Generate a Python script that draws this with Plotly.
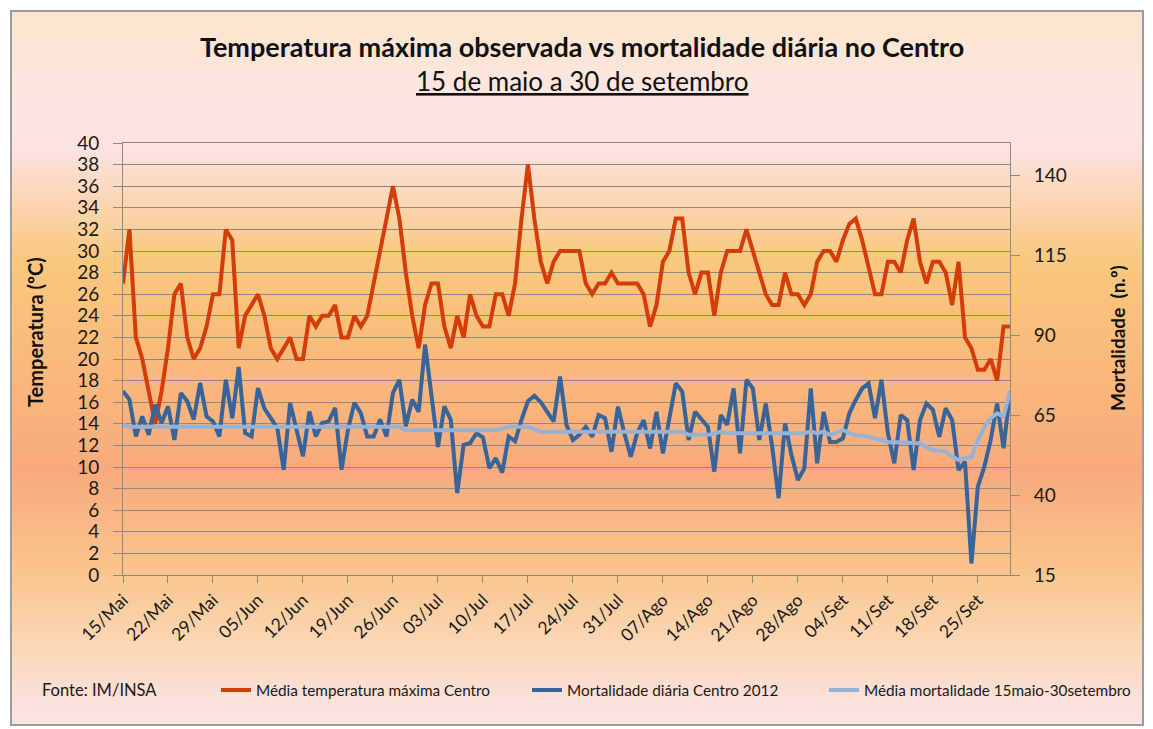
import plotly.graph_objects as go
import pandas as pd

# ---------------- data ----------------
month_pt = {5: "Mai", 6: "Jun", 7: "Jul", 8: "Ago", 9: "Set"}
dates = pd.date_range("2012-05-15", "2012-09-30", freq="D")
categories = [f"{d.day:02d}/{month_pt[d.month]}" for d in dates]
tick_labels = categories[::7]

temp_max = [27, 32, 22, 20, 17, 14, 17, 21, 26, 27,
            22, 20, 21, 23, 26, 26, 32, 31, 21, 24,
            25, 26, 24, 21, 20, 21, 22, 20, 20, 24,
            23, 24, 24, 25, 22, 22, 24, 23, 24, 27,
            30, 33, 36, 33, 28, 24, 21, 25, 27, 27,
            23, 21, 24, 22, 26, 24, 23, 23, 26, 26,
            24, 27, 33, 38, 33, 29, 27, 29, 30, 30,
            30, 30, 27, 26, 27, 27, 28, 27, 27, 27,
            27, 26, 23, 25, 29, 30, 33, 33, 28, 26,
            28, 28, 24, 28, 30, 30, 30, 32, 30, 28,
            26, 25, 25, 28, 26, 26, 25, 26, 29, 30,
            30, 29, 31, 32.5, 33, 31, 28.5, 26, 26, 29,
            29, 28, 31, 33, 29, 27, 29, 29, 28, 25,
            29, 22, 21, 19, 19, 20, 18, 23, 23]

mortalidade = [72.4, 69.8, 58.3, 64.6, 58.8, 68.2, 62.5, 67.7, 57.2, 71.9,
               69.3, 63.6, 75.0, 64.6, 63.0, 58.3, 76.0, 64.0, 80.0, 59.4,
               58.3, 73.4, 67.0, 64.0, 61.0, 47.9, 68.8, 60.4, 52.1, 66.1,
               58.3, 62.5, 63.0, 67.2, 47.9, 60.4, 68.8, 65.6, 58.3, 58.3,
               63.6, 58.3, 71.9, 76.0, 61.5, 69.8, 66.0, 87.0, 70.0, 55.0,
               67.7, 63.5, 40.6, 55.7, 56.2, 59.3, 58.0, 48.4, 51.5, 47.0,
               58.3, 56.8, 63.5, 69.3, 71.0, 69.0, 66.0, 63.0, 77.0, 61.9,
               57.2, 58.8, 61.3, 58.2, 65.0, 64.0, 53.5, 67.6, 59.3, 52.0,
               59.3, 63.4, 54.6, 66.0, 53.0, 64.5, 74.9, 72.3, 57.2, 66.0,
               63.4, 61.3, 47.3, 65.0, 61.9, 73.3, 53.0, 76.0, 73.3, 57.2,
               68.6, 55.1, 39.0, 62.4, 52.5, 44.7, 48.3, 73.3, 49.9, 66.0,
               56.6, 56.6, 57.7, 65.5, 69.7, 73.3, 74.9, 64.0, 76.0, 59.3,
               49.9, 65.0, 63.4, 47.8, 63.4, 68.6, 66.6, 58.2, 67.1, 63.4,
               47.8, 50.4, 18.6, 42.6, 48.8, 57.2, 68.6, 54.6, 72.3]

media_mortalidade = [62.0, 61.3, 61.3, 61.3, 61.3, 61.3, 61.3, 61.3, 61.3, 61.3,
                     61.3, 61.3, 61.3, 61.3, 61.3, 61.3, 61.3, 61.3, 61.3, 61.3,
                     61.3, 61.3, 61.3, 61.3, 61.3, 61.3, 61.3, 61.3, 61.3, 61.3,
                     61.3, 61.3, 61.3, 61.3, 61.3, 61.3, 61.3, 61.3, 61.3, 61.3,
                     61.3, 61.3, 61.3, 61.3, 60.2, 60.2, 60.2, 60.2, 60.2, 60.2,
                     60.2, 60.2, 60.2, 60.2, 60.2, 60.2, 60.2, 60.2, 60.2, 60.8,
                     61.3, 61.3, 61.3, 61.3, 60.5, 59.8, 59.8, 59.8, 59.8, 59.8,
                     59.8, 59.8, 59.8, 59.8, 59.8, 59.8, 59.8, 59.8, 59.8, 59.8,
                     59.8, 59.8, 59.8, 59.8, 59.8, 59.8, 59.8, 59.8, 58.8, 58.8,
                     58.8, 58.8, 59.2, 59.8, 59.3, 59.3, 59.3, 59.3, 59.3, 59.3,
                     59.3, 59.3, 59.3, 59.3, 59.3, 59.3, 59.3, 59.8, 59.3, 59.8,
                     58.8, 59.5, 60.3, 59.3, 58.7, 58.5, 58.2, 57.7, 57.2, 56.5,
                     56.5, 56.6, 56.4, 56.2, 56.2, 55.0, 54.0, 53.8, 53.6, 52.0,
                     50.9, 51.5, 51.8, 57.0, 61.3, 64.0, 65.5, 64.5, 72.3]

left_ticks = list(range(0, 41, 2))
right_ticks = [15, 40, 65, 90, 115, 140]

# ---------------- layout helpers ----------------
# the page adds an 8 px body margin, so the figure is 8 px smaller and all
# positions below are given in page pixels
OFF = 8
W, H = 1153 - OFF, 729 - OFF
PL, PR, PT, PB = 123, 1010, 143, 575   # plot area in page pixels


def px_x(x):
    return (x - PL) / (PR - PL)


def px_y(y):
    return (PB - y) / (PB - PT)


FONT = "Lato, 'Open Sans', sans-serif"
GRID = "#8a8a8a"
TXT = "#1a1a1a"
LEG_Y = 690

fig = go.Figure()

fig.add_trace(go.Scatter(x=categories, y=temp_max, mode="lines",
                         name="Média temperatura máxima Centro",
                         line=dict(color="#d43c08", width=4), legend="legend"))
fig.add_trace(go.Scatter(x=categories, y=mortalidade, mode="lines",
                         name="Mortalidade diária Centro 2012", yaxis="y2",
                         line=dict(color="#37649a", width=4), legend="legend"))
fig.add_trace(go.Scatter(x=categories, y=media_mortalidade, mode="lines",
                         name="Média mortalidade 15maio-30setembro", yaxis="y2",
                         line=dict(color="#95b3d7", width=4), legend="legend2"))

# background gradient bands (whole chart frame)
stops = [(11, (251, 230, 204)), (125, (252, 228, 230)), (150, (252, 226, 224)),
         (260, (249, 200, 126)), (360, (249, 186, 124)), (470, (248, 170, 124)),
         (575, (249, 198, 142)), (650, (250, 216, 184)), (725, (252, 228, 232))]
shapes = []
y0 = 11
step = 6
while y0 < 725:
    y1 = min(y0 + step, 725)
    ym = (y0 + y1) / 2
    for (a, ca), (b, cb) in zip(stops[:-1], stops[1:]):
        if a <= ym <= b:
            t = (ym - a) / (b - a)
            c = tuple(round(ca[i] + (cb[i] - ca[i]) * t) for i in range(3))
            break
    shapes.append(dict(type="rect", xref="paper", yref="paper", layer="below",
                       x0=px_x(11), x1=px_x(1143), y0=px_y(y1 + 0.5), y1=px_y(y0),
                       line=dict(width=0), fillcolor=f"rgb{c}"))
    y0 = y1
shapes.append(dict(type="rect", xref="paper", yref="paper", layer="above",
                   x0=px_x(11), x1=px_x(1143), y0=px_y(725), y1=px_y(11),
                   line=dict(color="#9c9c9c", width=2), fillcolor="rgba(0,0,0,0)"))

leg_common = dict(orientation="h", y=px_y(LEG_Y), yanchor="middle", xanchor="left",
                  font=dict(size=15.3, family=FONT, color=TXT),
                  bgcolor="rgba(0,0,0,0)", traceorder="normal")

fig.update_layout(
    width=W, height=H,
    margin=dict(l=PL - OFF, r=W - (PR - OFF), t=PT - OFF, b=H - (PB - OFF)),
    paper_bgcolor="white",
    plot_bgcolor="rgba(0,0,0,0)",
    font=dict(family=FONT, color=TXT),
    shapes=shapes,
    showlegend=True,
    legend=dict(x=px_x(216), entrywidth=266, entrywidthmode="pixels", **leg_common),
    legend2=dict(x=px_x(824), **leg_common),
    xaxis=dict(type="category", range=[0, len(categories) - 1],
               tickmode="array", tickvals=tick_labels, ticktext=tick_labels,
               tickangle=-45, ticks="outside", ticklen=7, tickcolor=GRID,
               showgrid=False, showline=True, linecolor=GRID, linewidth=1,
               mirror=True, tickfont=dict(size=17.5, color=TXT), zeroline=False),
    yaxis=dict(range=[0, 40], tickvals=left_ticks, showgrid=True, gridcolor=GRID,
               gridwidth=1, ticks="outside", ticklen=9, tickcolor=GRID,
               showline=True, linecolor=GRID, zeroline=False,
               ticklabelstandoff=10, tickfont=dict(size=19, color=TXT)),
    yaxis2=dict(overlaying="y", side="right", range=[15, 150], tickvals=right_ticks,
                showgrid=False, ticks="outside", ticklen=9, tickcolor=GRID,
                showline=True, linecolor=GRID, zeroline=False,
                ticklabelstandoff=10, tickfont=dict(size=19, color=TXT)),
)

# axis titles
fig.add_annotation(text="<b>Temperatura (ºC)</b>", textangle=-90,
                   xref="paper", yref="paper", x=px_x(35), y=px_y(332),
                   xanchor="center", yanchor="middle", showarrow=False,
                   font=dict(size=20, family=FONT, color="#111111"))
fig.add_annotation(text="<b>Mortalidade&nbsp;&nbsp;(n.º)</b>", textangle=-90,
                   xref="paper", yref="paper", x=px_x(1117), y=px_y(338),
                   xanchor="center", yanchor="middle", showarrow=False,
                   font=dict(size=19, family=FONT, color="#111111"))

# titles
fig.add_annotation(text="<b>Temperatura máxima observada vs mortalidade diária no Centro</b>",
                   xref="paper", yref="paper", x=px_x(582), y=px_y(47),
                   xanchor="center", yanchor="middle",
                   showarrow=False, font=dict(size=27, family=FONT, color="#111111"))
fig.add_annotation(text="<u>15 de maio a 30 de setembro</u>",
                   xref="paper", yref="paper", x=px_x(582), y=px_y(81),
                   xanchor="center", yanchor="middle",
                   showarrow=False, font=dict(size=26, family=FONT, color="#111111"))
fig.add_annotation(text="Fonte: IM/INSA", xref="paper", yref="paper",
                   x=px_x(40), y=px_y(LEG_Y), xanchor="left", yanchor="middle",
                   showarrow=False, font=dict(size=16.5, family=FONT, color=TXT))

fig.write_html("out.html")
